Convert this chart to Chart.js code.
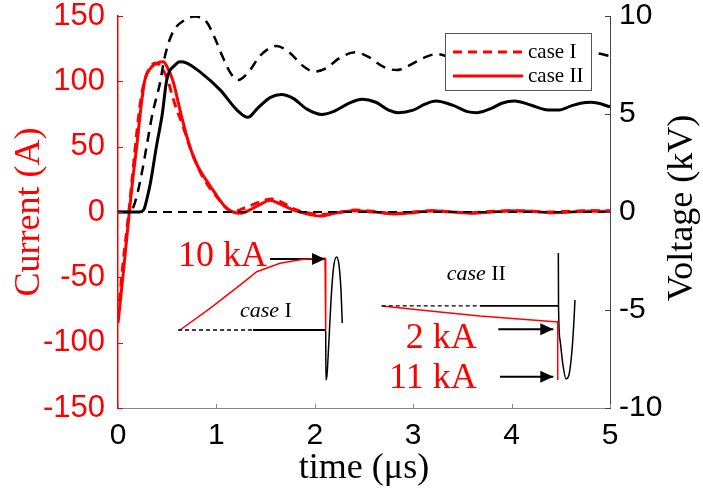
<!DOCTYPE html>
<html lang="en">
<head>
<meta charset="UTF-8">
<title>Current and voltage, case I and case II</title>
<style>
  html, body { margin: 0; padding: 0; background: #fff; }
  #wrap { width: 703px; height: 490px; }
</style>
<script src="https://cdn.jsdelivr.net/npm/chart.js"></script>
</head>
<body>
<div id="wrap"><canvas id="chart" width="703" height="490"></canvas></div>
<script>
// current, case I (red dashed), A
const tCurI = [0,0.05,0.1,0.11,0.15,0.19,0.23,0.28,0.33,0.38,0.43,0.5,0.58,0.65,0.73,0.82,0.9,1.0,1.1,1.17,1.25,1.35,1.45,1.56,1.65,1.8,1.95,2.05,2.2,2.4,2.6,2.8,3.0,3.2,3.4,3.6,3.8,4.0,4.2,4.4,4.6,4.8,5.0];
const curI  = [-80,-40,-7,0,30,60,85,103,111,114,112,102,82,68,50,33,22,12,3,0,2,5,8,10,8,2,-1,-2,-1,1.5,0.5,-1,0,1,0,-0.5,0.5,1,0.5,0,0.5,1,1];

// current, case II (red solid), A
const tCurII = [0,0.06,0.115,0.15,0.19,0.23,0.27,0.33,0.4,0.46,0.5,0.56,0.64,0.73,0.81,0.9,0.99,1.09,1.17,1.24,1.35,1.45,1.54,1.65,1.8,1.95,2.05,2.2,2.39,2.6,2.8,3.0,3.2,3.4,3.6,3.8,4.0,4.2,4.4,4.6,4.8,5.0];
const curII  = [-85,-42,0,25,50,78,100,110,114,115,111,100,75,50,35,24,14,4,0,-1,2,6,9,6,1,-2,-3,-1,1,0,-1.5,-0.5,1,0,-1,0,1,0.5,-0.5,0,0.8,0.5];

// voltage, case I (black dashed), kV
const tVolI = [0,0.12,0.16,0.2,0.25,0.29,0.35,0.43,0.47,0.55,0.68,0.78,0.9,0.985,1.07,1.155,1.22,1.32,1.45,1.61,1.75,1.88,2.0,2.12,2.25,2.41,2.55,2.7,2.83,2.95,3.1,3.24,3.45,3.65,3.85,4.05,4.25,4.45,4.65,4.86,5.0];
const volI  = [0,0,0.3,1.0,2.2,3.33,5.0,6.66,7.8,9.1,9.8,9.97,9.7,8.86,7.84,7.0,6.73,7.1,8.0,8.47,8.1,7.45,7.16,7.35,7.85,8.15,7.9,7.4,7.24,7.45,7.85,8.06,7.7,7.3,7.6,8.0,7.75,7.35,7.7,8.1,7.95];

// voltage, case II (black solid), kV
const tVolII = [0,0.22,0.26,0.3,0.33,0.39,0.45,0.495,0.58,0.63,0.7,0.83,1.04,1.21,1.32,1.42,1.55,1.66,1.78,1.92,2.07,2.2,2.35,2.48,2.62,2.75,2.85,3.0,3.12,3.23,3.4,3.55,3.65,3.8,3.9,4.03,4.2,4.35,4.47,4.6,4.7,4.81,4.92,5.0];
const volII  = [0,0,0.1,0.8,1.5,3.33,5.0,6.73,7.5,7.67,7.6,7.16,6.22,5.2,4.83,5.3,5.85,6.0,5.8,5.25,4.98,5.15,5.55,5.75,5.6,5.2,5.07,5.2,5.5,5.66,5.45,5.12,5.07,5.3,5.55,5.66,5.45,5.22,5.2,5.4,5.55,5.6,5.5,5.36];

// zero reference line
const tZero = [0, 5];
const vZero = [0, 0];

// inset sketches, in (time, current) units of the main axes
const in1RedT  = [0.630,0.935,1.240,1.410,1.646,1.883,2.104,2.111,2.111];
const in1RedI  = [-90.3,-73.7,-55.9,-45.7,-39.3,-36.2,-35.4,-35.4,-90.3];
const in1DashT = [0.61, 1.372];
const in1DashI = [-90.3, -90.3];
const in1BaseT = [1.372, 2.111];
const in1BaseI = [-90.3, -90.3];
const in1OscT  = [2.111,2.113,2.124,2.144,2.165,2.190,2.220,2.246,2.266,2.279];
const in1OscI  = [-91.0,-128.5,-124.7,-97.9,-67.3,-42.8,-34.4,-40.6,-59.7,-84.9];

const in2RedT  = [2.680,3.171,3.679,4.441,4.469,4.469];
const in2RedI  = [-71.9,-75.7,-79.6,-83.9,-83.9,-128.5];
const in2DashT = [2.680, 3.679];
const in2DashI = [-71.9, -71.9];
const in2BaseT = [3.679, 4.475];
const in2BaseI = [-71.9, -71.9];
const in2OscT  = [4.475,4.477,4.492,4.522,4.553,4.583,4.614,4.634,4.644];
const in2OscI  = [-31.4,-71.9,-97.9,-117.1,-127.8,-124.7,-105.6,-82.6,-67.3];

// arrows: start time, tip time, current level
const arrowT0 = [1.545, 3.865, 3.882];
const arrowT1 = [2.104, 4.424, 4.424];
const arrowI  = [-36.0, -89.8, -126.0];

// annotation labels
const noteText  = ['10 kA', '2 kA', '11 kA'];
const noteT     = [0.61, 3.645, 3.645];
const noteI     = [-41.3, -104, -134.9];
const noteAlign = ['left', 'right', 'right'];
const caseText  = ['I', 'II'];
const caseT     = [1.24, 3.34];
const caseI     = [-80.3, -52.0];

const RED = '#ff0000';
const SERIF = '"Liberation Serif", "Times New Roman", serif';
const SANS = '"Liberation Sans", Arial, sans-serif';

const pts = (xs, ys) => xs.map((x, i) => ({ x: x, y: ys[i] }));

const datasets = [
    { label: 'zero', data: pts(tZero, vZero), yAxisID: 'y1', borderColor: '#000', borderWidth: 2, borderDash: [9, 6], order: 0 },
    { label: 'case I V', data: pts(tVolI, volI), yAxisID: 'y1', borderColor: '#000', borderWidth: 2.5, borderDash: [10, 7], cubicInterpolationMode: 'monotone', order: 3 },
    { label: 'case II V', data: pts(tVolII, volII), yAxisID: 'y1', borderColor: '#000', borderWidth: 3, cubicInterpolationMode: 'monotone', order: 2 },
    { label: 'case I', data: pts(tCurI, curI), yAxisID: 'y', borderColor: RED, borderWidth: 3, borderDash: [9, 6], cubicInterpolationMode: 'monotone', order: 4, legend: true },
    { label: 'case II', data: pts(tCurII, curII), yAxisID: 'y', borderColor: RED, borderWidth: 3, cubicInterpolationMode: 'monotone', order: 5, legend: true },
    // inset sketches
    { data: pts(in1DashT, in1DashI), yAxisID: 'y', borderColor: '#000', borderWidth: 1.3, borderDash: [4, 3], order: 1 },
    { data: pts(in1BaseT, in1BaseI), yAxisID: 'y', borderColor: '#000', borderWidth: 1.8, order: 1 },
    { data: pts(in1RedT, in1RedI), yAxisID: 'y', borderColor: RED, borderWidth: 1.5, order: 1 },
    { data: pts(in1OscT, in1OscI), yAxisID: 'y', borderColor: '#000', borderWidth: 1.5, cubicInterpolationMode: 'monotone', order: 1 },
    { data: pts(in2DashT, in2DashI), yAxisID: 'y', borderColor: '#000', borderWidth: 1.3, borderDash: [4, 3], order: 1 },
    { data: pts(in2BaseT, in2BaseI), yAxisID: 'y', borderColor: '#000', borderWidth: 1.8, order: 1 },
    { data: pts(in2RedT, in2RedI), yAxisID: 'y', borderColor: RED, borderWidth: 1.5, order: 1 },
    { data: pts(in2OscT, in2OscI), yAxisID: 'y', borderColor: '#000', borderWidth: 1.5, cubicInterpolationMode: 'monotone', order: 1 }
];
arrowT0.forEach((t0, i) => {
    datasets.push({ data: pts([t0, arrowT1[i]], [arrowI[i], arrowI[i]]), yAxisID: 'y', borderColor: '#000', borderWidth: 2, order: 1, arrow: true });
});

// inward tick marks, arrowheads, notes, legend, right title
const decor = {
    id: 'decor',
    afterDatasetsDraw(chart) {
        const ctx = chart.ctx;
        const xs = chart.scales.x, ys = chart.scales.y, yr = chart.scales.y1;
        const a = chart.chartArea;
        ctx.save();

        // arrowheads
        chart.data.datasets.forEach((ds, i) => {
            if (!ds.arrow) return;
            const el = chart.getDatasetMeta(i).data;
            const p0 = el[el.length - 2], p1 = el[el.length - 1];
            const ang = Math.atan2(p1.y - p0.y, p1.x - p0.x);
            ctx.save();
            ctx.translate(p1.x, p1.y);
            ctx.rotate(ang);
            ctx.fillStyle = '#000';
            ctx.beginPath();
            ctx.moveTo(0, 0);
            ctx.lineTo(-13, -6);
            ctx.lineTo(-13, 6);
            ctx.closePath();
            ctx.fill();
            ctx.restore();
        });

        // notes
        ctx.fillStyle = RED;
        ctx.font = '36px ' + SERIF;
        ctx.textBaseline = 'alphabetic';
        noteText.forEach((s, i) => {
            ctx.textAlign = noteAlign[i];
            ctx.fillText(s, xs.getPixelForValue(noteT[i]), ys.getPixelForValue(noteI[i]));
        });
        ctx.fillStyle = '#000';
        ctx.textAlign = 'left';
        caseText.forEach((s, i) => {
            let x = xs.getPixelForValue(caseT[i]);
            const y = ys.getPixelForValue(caseI[i]);
            ctx.font = 'italic 22px ' + SERIF;
            ctx.fillText('case', x, y);
            x += ctx.measureText('case ').width;
            ctx.font = '22px ' + SERIF;
            ctx.fillText(s, x, y);
        });

        // tick marks pointing inward
        ctx.lineWidth = 1;
        ctx.strokeStyle = RED;
        ys.ticks.forEach(t => {
            const y = Math.round(ys.getPixelForValue(t.value)) + 0.5;
            ctx.beginPath(); ctx.moveTo(a.left, y); ctx.lineTo(a.left + 5, y); ctx.stroke();
        });
        ctx.strokeStyle = '#444';
        yr.ticks.forEach(t => {
            const y = Math.round(yr.getPixelForValue(t.value)) + 0.5;
            ctx.beginPath(); ctx.moveTo(a.right, y); ctx.lineTo(a.right - 5, y); ctx.stroke();
        });
        ctx.strokeStyle = '#888';
        xs.ticks.forEach(t => {
            const x = Math.round(xs.getPixelForValue(t.value)) + 0.5;
            ctx.beginPath(); ctx.moveTo(x, a.bottom); ctx.lineTo(x, a.bottom - 4); ctx.stroke();
        });

        // legend box
        const lx = 445, ly = 33, lw = 146, lh = 57;
        ctx.fillStyle = '#fff';
        ctx.fillRect(lx, ly, lw, lh);
        ctx.strokeStyle = '#555';
        ctx.lineWidth = 1;
        ctx.strokeRect(lx + 0.5, ly + 0.5, lw, lh);
        const items = chart.data.datasets.filter(d => d.legend);
        items.forEach((d, i) => {
            const y = ly + 19 + i * 24;
            ctx.strokeStyle = d.borderColor;
            ctx.lineWidth = 3;
            ctx.setLineDash(d.borderDash || []);
            ctx.beginPath(); ctx.moveTo(lx + 8, y); ctx.lineTo(lx + 78, y); ctx.stroke();
            ctx.setLineDash([]);
            ctx.fillStyle = '#000';
            ctx.font = '21px ' + SERIF;
            ctx.textAlign = 'left';
            ctx.textBaseline = 'middle';
            ctx.fillText(d.label, lx + 83, y);
        });

        // right axis title, reading bottom to top
        ctx.save();
        ctx.translate(683, 208);
        ctx.rotate(-Math.PI / 2);
        ctx.fillStyle = '#000';
        ctx.font = '36px ' + SERIF;
        ctx.textAlign = 'center';
        ctx.textBaseline = 'middle';
        ctx.fillText('Voltage (kV)', 0, 0);
        ctx.restore();

        ctx.restore();
    }
};

const fixW = w => scale => { scale.width = w; scale.paddingTop = 0; scale.paddingBottom = 0; };

new Chart(document.getElementById('chart').getContext('2d'), {
    type: 'line',
    data: { datasets: datasets },
    options: {
        responsive: false,
        animation: false,
        devicePixelRatio: 1,
        layout: { padding: { top: 16, left: 0, right: 0, bottom: 0 } },
        elements: { point: { radius: 0 }, line: { fill: false } },
        plugins: { legend: { display: false }, tooltip: { enabled: false } },
        scales: {
            x: {
                type: 'linear', min: 0, max: 5,
                grid: { display: false, drawTicks: false },
                border: { display: true, color: '#888', width: 1 },
                ticks: { stepSize: 1, color: '#000', padding: 10, font: { family: SANS, size: 30 } },
                title: { display: true, text: 'time (μs)', color: '#000', padding: { top: 0, bottom: 0 }, font: { family: SERIF, size: 36 } },
                afterFit: scale => { scale.height = 82; scale.paddingLeft = 0; scale.paddingRight = 0; }
            },
            y: {
                position: 'left', min: -150, max: 150,
                grid: { display: false, drawTicks: false },
                border: { display: true, color: RED, width: 1.5 },
                ticks: { stepSize: 50, color: RED, padding: 13, font: { family: SANS, size: 31 } },
                title: { display: true, text: 'Current (A)', color: RED, padding: { top: 8, bottom: 0 }, font: { family: SERIF, size: 36 } },
                afterFit: fixW(118)
            },
            y1: {
                position: 'right', min: -10, max: 10,
                grid: { display: false, drawTicks: false },
                border: { display: true, color: '#444', width: 1 },
                ticks: { stepSize: 5, color: '#000', padding: 9, font: { family: SANS, size: 30 } },
                afterFit: fixW(93)
            }
        }
    },
    plugins: [decor]
});
</script>
</body>
</html>
